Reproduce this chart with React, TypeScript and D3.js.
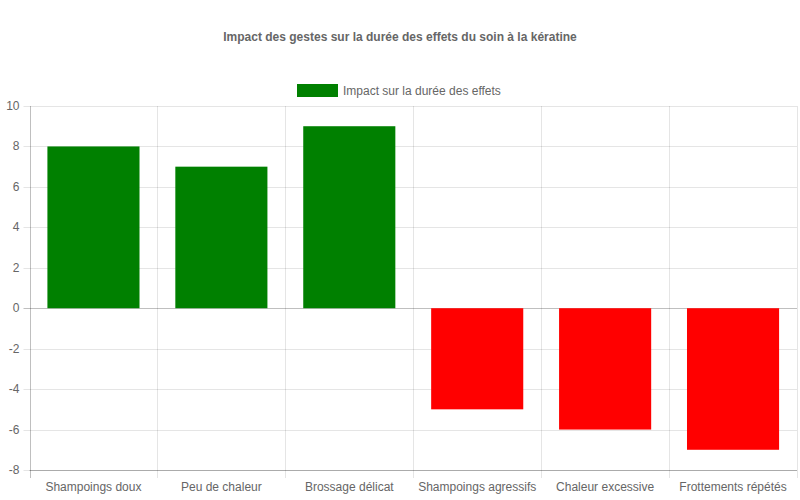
import React from 'react';
import * as d3 from 'd3';

const categories = [
  'Shampoings doux',
  'Peu de chaleur',
  'Brossage délicat',
  'Shampoings agressifs',
  'Chaleur excessive',
  'Frottements répétés',
];
const impacts = [8, 7, 9, -5, -6, -7];
const yTicks = [10, 8, 6, 4, 2, 0, -2, -4, -6, -8];
const title = 'Impact des gestes sur la durée des effets du soin à la kératine';
const seriesLabel = 'Impact sur la durée des effets';

const W = 800;
const H = 500;
const FONT = '"Liberation Sans", Arial, Helvetica, sans-serif';

const App: React.FC = () => {
  const margin = { top: 106, right: 3, bottom: 30, left: 29.5 };
  const x = d3.scaleBand().domain(categories).range([margin.left, W - margin.right]);
  const y = d3.scaleLinear().domain([-8, 10]).range([H - margin.bottom, margin.top]);
  const barW = x.bandwidth() * 0.72;

  return (
    <svg width={W} height={H} style={{ position: 'absolute', left: 0, top: 0, fontFamily: FONT }}>
      <rect width={W} height={H} fill="#fff" />
      <text x={W / 2} y={41} textAnchor="middle" fontSize={12} fontWeight="bold" fill="#666">
        {title}
      </text>

      {/* legend */}
      <rect x={297.5} y={84.5} width={40} height={12} fill="green" stroke="green" />
      <text x={343} y={94.5} fontSize={12} fill="#666">{seriesLabel}</text>

      {/* horizontal grid */}
      {yTicks.map((t) => (
        <g key={t}>
          <line
            x1={margin.left - 6}
            x2={W - margin.right}
            y1={Math.round(y(t)) + 0.5}
            y2={Math.round(y(t)) + 0.5}
            stroke={t === 0 ? 'rgba(0,0,0,0.25)' : 'rgba(0,0,0,0.1)'}
          />
          <text x={margin.left - 10} y={y(t) + 4} textAnchor="end" fontSize={12} fill="#666">
            {t}
          </text>
        </g>
      ))}

      {/* vertical grid */}
      {categories.map((c, i) => (
        <line
          key={c}
          x1={Math.round(x(c)!) + 0.5}
          x2={Math.round(x(c)!) + 0.5}
          y1={margin.top}
          y2={H - margin.bottom + 8}
          stroke={i === 0 ? 'rgba(0,0,0,0.25)' : 'rgba(0,0,0,0.1)'}
        />
      ))}
      <line
        x1={W - margin.right + 0.5}
        x2={W - margin.right + 0.5}
        y1={margin.top}
        y2={H - margin.bottom + 8}
        stroke="rgba(0,0,0,0.1)"
      />
      <line
        x1={margin.left}
        x2={W - margin.right}
        y1={H - margin.bottom + 0.5}
        y2={H - margin.bottom + 0.5}
        stroke="rgba(0,0,0,0.25)"
      />

      {/* bars */}
      {categories.map((c, i) => {
        const v = impacts[i];
        const color = v >= 0 ? 'green' : 'red';
        const y0 = y(0);
        const y1 = y(v);
        return (
          <rect
            key={c}
            x={x(c)! + (x.bandwidth() - barW) / 2}
            y={Math.min(y0, y1)}
            width={barW}
            height={Math.abs(y1 - y0)}
            fill={color}
          />
        );
      })}

      {/* category labels */}
      {categories.map((c) => (
        <text
          key={c}
          x={x(c)! + x.bandwidth() / 2}
          y={H - margin.bottom + 21}
          textAnchor="middle"
          fontSize={12}
          fill="#666"
        >
          {c}
        </text>
      ))}
    </svg>
  );
};

export default App;
